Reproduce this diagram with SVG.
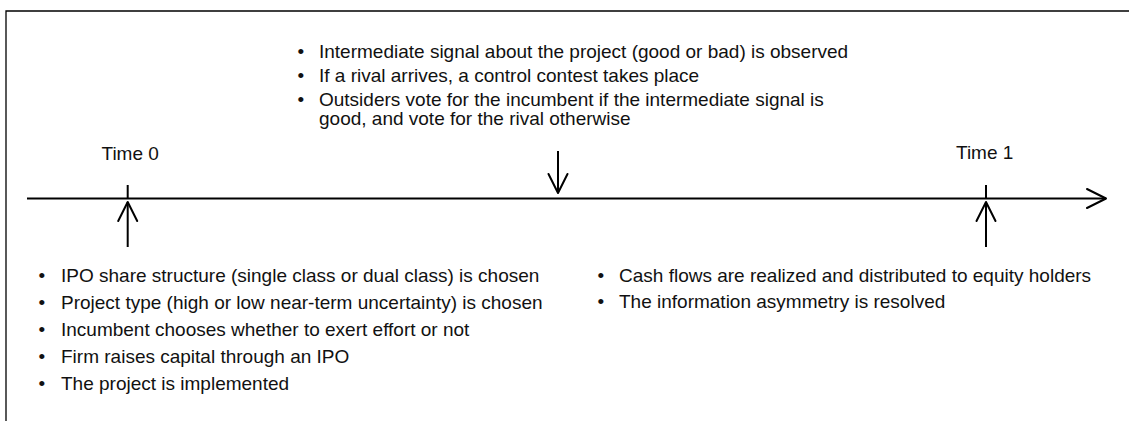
<svg xmlns="http://www.w3.org/2000/svg" width="1129" height="421" viewBox="0 0 1129 421">
<style>
  text { font-family: "Liberation Sans", Arial, sans-serif; font-size: 19px; fill: #111; }
  .ln { stroke: #000; stroke-width: 2; fill: none; }
  .frame { stroke: #000; stroke-width: 1.3; fill: none; }
</style>
<defs>
  <marker id="chev" markerUnits="userSpaceOnUse" orient="auto" refX="0" refY="0" markerWidth="30" markerHeight="30" overflow="visible">
    <path d="M -19,-9.5 L 0,0 L -19,9.5" fill="none" stroke="#000" stroke-width="2" stroke-linejoin="round" stroke-linecap="round"/>
  </marker>
</defs>
<rect width="1129" height="421" fill="#fff"/>
<path class="frame" d="M 6,421 L 6,11 L 1129,11"/>

<g id="connectors">
  <line class="ln" x1="27" y1="198.5" x2="1106" y2="198.5" marker-end="url(#chev)"/>
  <line class="ln" x1="127.7" y1="185" x2="127.7" y2="198.5"/>
  <line class="ln" x1="986" y1="185" x2="986" y2="198.5"/>
  <line class="ln" x1="127.7" y1="247" x2="127.7" y2="202" marker-end="url(#chev)"/>
  <line class="ln" x1="986" y1="247" x2="986" y2="202" marker-end="url(#chev)"/>
  <line class="ln" x1="558" y1="151" x2="558" y2="193" marker-end="url(#chev)"/>
</g>

<g id="intermediate-events">
  <text x="297.5" y="58">•</text><text x="319" y="58">Intermediate signal about the project (good or bad) is observed</text>
  <text x="297.5" y="82">•</text><text x="319" y="82">If a rival arrives, a control contest takes place</text>
  <text x="297.5" y="106">•</text><text x="319" y="106">Outsiders vote for the incumbent if the intermediate signal is</text>
  <text x="319" y="125">good, and vote for the rival otherwise</text>
</g>

<g id="time0">
  <text x="101.5" y="160">Time 0</text>
</g>

<g id="time1">
  <text x="956" y="159">Time 1</text>
</g>

<g id="time0-events">
  <text x="38.5" y="282">•</text><text x="61" y="282">IPO share structure (single class or dual class) is chosen</text>
  <text x="38.5" y="309">•</text><text x="61" y="309">Project type (high or low near-term uncertainty) is chosen</text>
  <text x="38.5" y="336">•</text><text x="61" y="336">Incumbent chooses whether to exert effort or not</text>
  <text x="38.5" y="363">•</text><text x="61" y="363">Firm raises capital through an IPO</text>
  <text x="38.5" y="390">•</text><text x="61" y="390">The project is implemented</text>
</g>

<g id="time1-events">
  <text x="597.5" y="282">•</text><text x="619" y="282">Cash flows are realized and distributed to equity holders</text>
  <text x="597.5" y="308">•</text><text x="619" y="308">The information asymmetry is resolved</text>
</g>
</svg>
